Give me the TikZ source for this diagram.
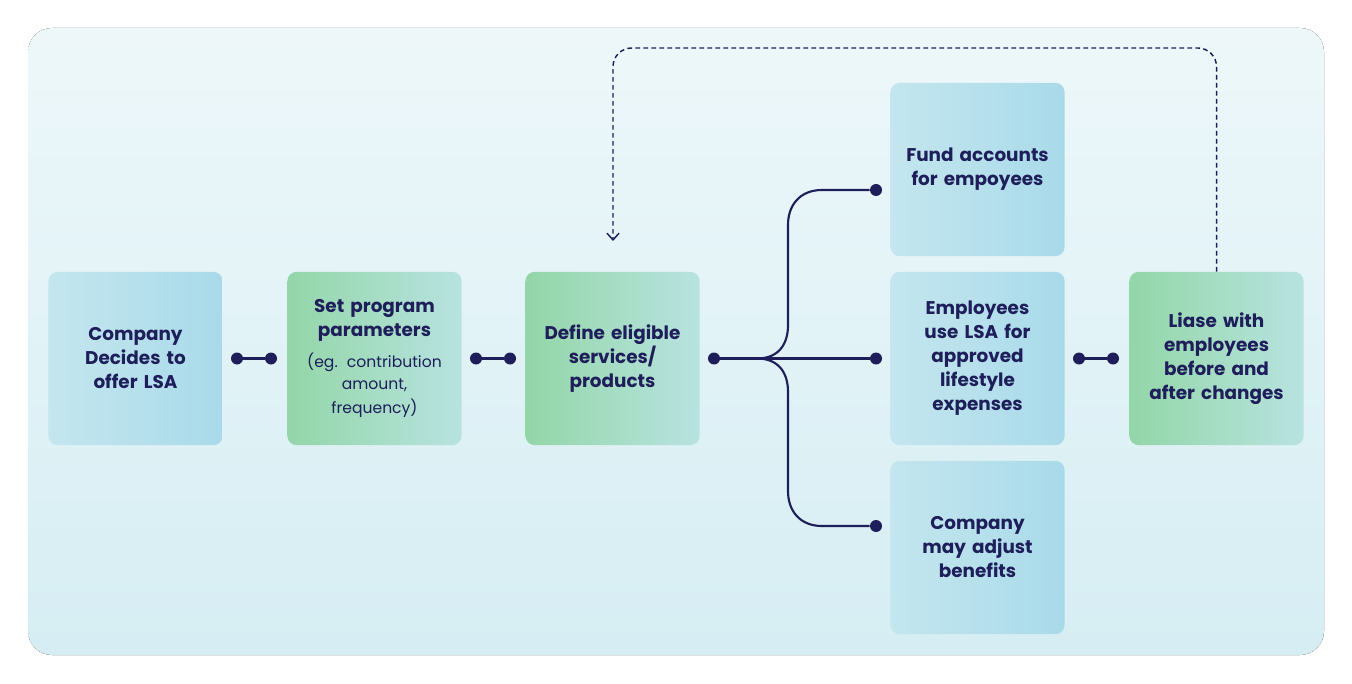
\documentclass[tikz,border=0pt]{standalone}
\usepackage{fontspec}
\setmainfont{Poppins}
\usetikzlibrary{arrows.meta}
\definecolor{navy}{HTML}{1E1E5A}
\definecolor{bxblue}{HTML}{A9DAEA}
\definecolor{bxblueL}{HTML}{C4E6EE}
\definecolor{bxgreen}{HTML}{93D6A8}
\definecolor{bxgreenL}{HTML}{B8E3E0}
\tikzset{
 x=0.75pt,y=-0.75pt,
 box/.style={minimum width=130pt,minimum height=130pt,rounded corners=7pt,align=center,text width=124pt,text=navy,font=\fontsize{13.8}{18}\selectfont\bfseries},
 bluebox/.style={box,left color=bxblueL,right color=bxblue},
 greenbox/.style={box,left color=bxgreen,right color=bxgreenL},
 conn/.style={navy,line width=1.6pt},
 dot/.style={circle,fill=navy,inner sep=0pt,minimum size=9pt},
}
\begin{document}
\begin{tikzpicture}
\useasboundingbox (0,0) rectangle (1352,684);
\fill[top color=white!70!bxblueL,bottom color=bxblueL!70!white,rounded corners=18pt] (28,28) rectangle (1324,655);
\node[bluebox] (b1) at (135.5,358.5) {Company\\Decides to\\offer LSA};
\node[greenbox] (b2) at (374.5,358.5) {Set program\\parameters\\[6pt]{\mdseries\fontsize{11.7}{17}\selectfont (eg. contribution\\amount,\\frequency)}};
\node[greenbox] (b3) at (612.5,358.5) {Define eligible\\services/\\products};
\node[bluebox] (b4) at (977.5,169.5) {Fund accounts\\for empoyees\\[36pt]};
\node[bluebox] (b5) at (977.5,358.5) {Employees\\use LSA for\\approved\\lifestyle\\expenses};
\node[bluebox] (b6) at (977.5,547.5) {Company\\may adjust\\benefits\\[26pt]};
\node[greenbox] (b7) at (1216.5,358.5) {Liase with\\employees\\before and\\after changes};
\node[dot] (d1) at (237,358.5) {}; \node[dot] (d2) at (271,358.5) {};
\node[dot] (d3) at (476,358.5) {}; \node[dot] (d4) at (510,358.5) {};
\node[dot] (d5) at (714,358.5) {};
\node[dot] (t1) at (876,190) {}; \node[dot] (t2) at (876,358.5) {}; \node[dot] (t3) at (876,526) {};
\node[dot] (d6) at (1079,358.5) {}; \node[dot] (d7) at (1113,358.5) {};
\draw[conn] (d1)--(d2); \draw[conn] (d3)--(d4); \draw[conn] (d6)--(d7);
\draw[conn] (d5)--(t2);
\draw[conn] (757,358.5) .. controls (778,358.5) and (788,345) .. (788,325) -- (788,225) .. controls (788,205) and (800,190) .. (822,190) -- (t1);
\draw[conn] (757,358.5) .. controls (778,358.5) and (788,372) .. (788,392) -- (788,491) .. controls (788,511) and (800,526) .. (822,526) -- (t3);
\coordinate (c1) at (1216.5,48); \coordinate (c2) at (613,48); \coordinate (c3) at (613,241);
\draw[navy,line width=1.1pt,dash pattern=on 3.5pt off 2.5pt,rounded corners=14pt,-{Straight Barb[length=5pt,width=9pt]}] (b7.north) -- (c1) -- (c2) -- (c3);
\end{tikzpicture}
\end{document}
